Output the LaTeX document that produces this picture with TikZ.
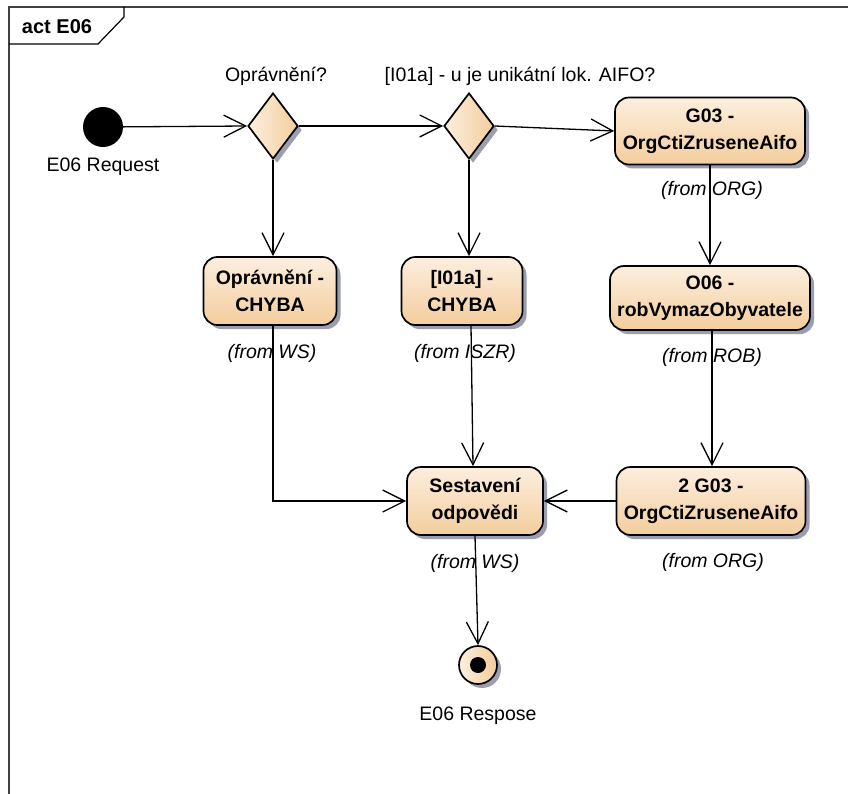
\documentclass[tikz,border=0pt]{standalone}
\usepackage{fontspec}
\setmainfont{Liberation Sans}
\usetikzlibrary{shapes.geometric,arrows.meta,shadows}
\definecolor{fillA}{HTML}{FCEFDF}
\definecolor{fillB}{HTML}{F3CD9C}
\definecolor{shad}{HTML}{9A9EAE}
\begin{document}
\begin{tikzpicture}[x=1pt,y=-1pt,
  shd/.style={drop shadow={shadow xshift=4pt, shadow yshift=-4pt, fill=shad, opacity=1}},
  act/.style={rectangle, rounded corners=14pt, draw=black, line width=1.7pt,
    top color=fillA, bottom color=fillB, shd,
    font=\fontsize{19.5}{27}\selectfont\bfseries, align=center, inner sep=0pt},
  dec/.style={diamond, draw=black, line width=1.7pt, left color=fillA, right color=fillB,
    minimum width=50pt, minimum height=66pt, inner sep=0pt, shd},
  lbl/.style={font=\fontsize{19.5}{22}\selectfont, inner sep=0pt},
  frm/.style={font=\fontsize{19.5}{22}\selectfont\itshape, inner sep=0pt},
  flow/.style={line width=1.3pt, -{Straight Barb[length=22pt,width=22pt,line width=1.3pt]}},
]
\useasboundingbox (0,0) rectangle (848,794);
\fill[white] (0,0) rectangle (848,794);
% frame
\draw[line width=1.4pt, black!75] (9,794) -- (9,7) -- (848,7);
\draw[line width=1.2pt] (9,44) -- (98,44) -- (124,17) -- (124,7);
\node[font=\fontsize{20}{22}\selectfont\bfseries, inner sep=0pt] (title) at (57,27) {act E06};

% start
\node[circle, fill=black, minimum size=40pt, inner sep=0pt] (start) at (103,127) {};
\node[lbl] (startl) at (103,167) {E06 Request};

% decisions
\node[dec] (d1) at (273,126) {};
\node[lbl] (d1l) at (276,76) {Oprávnění?};
\node[dec] (d2) at (469,126) {};
\node[lbl] (d2l) at (520,76) {[I01a] - u je unikátní lok. AIFO?};

% actions
\node[act, minimum width=190pt, minimum height=67pt] (g03) at (710,131) {G03 -\\OrgCtiZruseneAifo};
\node[frm] (g03f) at (712,190) {(from ORG)};
\node[act, minimum width=200pt, minimum height=64pt] (o06) at (710,298) {O06 -\\robVymazObyvatele};
\node[frm] (o06f) at (712,357) {(from ROB)};
\node[act, minimum width=189pt, minimum height=68pt] (g032) at (711,501) {2 G03 -\\OrgCtiZruseneAifo};
\node[frm] (g032f) at (713,562) {(from ORG)};
\node[act, minimum width=133pt, minimum height=68pt] (opr) at (270,291) {Oprávnění -\\CHYBA};
\node[frm] (oprf) at (272,353) {(from WS)};
\node[act, minimum width=121pt, minimum height=68pt] (i01) at (462,291) {[I01a] -\\CHYBA};
\node[frm] (i01f) at (465,353) {(from ISZR)};
\node[act, minimum width=136pt, minimum height=68pt] (ses) at (475,501) {Sestavení\\odpovědi};
\node[frm] (sesf) at (475,563) {(from WS)};

% final
\node[circle, draw=black, line width=1.7pt, left color=fillA, right color=fillB,
  minimum size=38pt, inner sep=0pt, shd] (endn) at (478,665) {};
\fill (endn.center) circle[radius=8pt];
\node[lbl] (endl) at (478,716) {E06 Respose};

% flows
\draw[flow] (start) -- (d1.west);
\draw[flow] (d1.east) -- (d2.west);
\draw[flow] (d2.east) -- (g03.west);
\draw[flow] (d1.south) -- (d1.south |- opr.north);
\draw[flow] (d2.south) -- (d2.south |- i01.north);
\draw[flow] (g03.south) -- (g03.south |- o06.north);
\draw[flow] ([xshift=2pt]o06.south) -- ([xshift=1pt]g032.north);
\draw[flow] (d1.south |- opr.south) |- (ses.west);
\draw[flow] ([xshift=9pt]i01.south) -- ([xshift=-2pt]ses.north);
\draw[flow] (g032.west) -- (ses.east);
\draw[flow] (ses.south) -- (endn.north);
\end{tikzpicture}
\end{document}
